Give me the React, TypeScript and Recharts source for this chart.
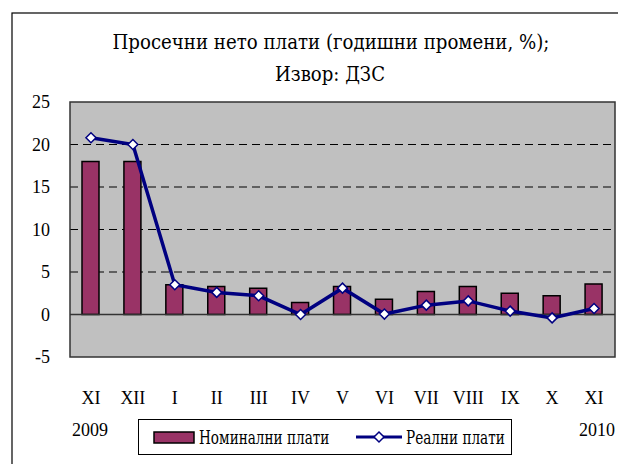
import React from 'react';
import {
  ComposedChart,
  Bar,
  Line,
  XAxis,
  YAxis,
  CartesianGrid,
  ReferenceLine,
  ReferenceArea,
  Legend,
} from 'recharts';

const months = ['XI', 'XII', 'I', 'II', 'III', 'IV', 'V', 'VI', 'VII', 'VIII', 'IX', 'X', 'XI'];
const nominal = [18.0, 18.0, 3.5, 3.3, 3.1, 1.4, 3.3, 1.8, 2.7, 3.3, 2.5, 2.2, 3.6];
const real = [20.8, 20.0, 3.5, 2.6, 2.2, 0.0, 3.1, 0.05, 1.1, 1.6, 0.4, -0.4, 0.7];
const yTicks = [-5, 0, 5, 10, 15, 20, 25];
const titleLines = ['Просечни нето плати (годишни промени, %);', 'Извор: ДЗС'];
const yearLabels = ['2009', '2010'];
const seriesNames = { nominal: 'Номинални плати', real: 'Реални плати' };

const data = months.map((m, i) => ({ key: i, month: m, nominal: nominal[i], real: real[i] }));

const FONT = 'Liberation Serif, DejaVu Serif, serif';
const CYR = 'DejaVu Serif Condensed, DejaVu Serif, serif';
const BAR = '#993366';
const NAVY = '#000080';

const Diamond = (props: any) => {
  const { cx, cy } = props;
  if (cx == null || cy == null) return null;
  const r = 5;
  return (
    <polygon
      points={`${cx},${cy - r} ${cx + r},${cy} ${cx},${cy + r} ${cx - r},${cy}`}
      fill="#fff"
      stroke={NAVY}
      strokeWidth={1.5}
    />
  );
};

// legend box: swatch + label, then line sample + label
const LegendBox = (props: any) => {
  const items = props.payload || [];
  return (
    <div
      style={{
        position: 'relative',
        width: 374,
        height: 36,
        boxSizing: 'border-box',
        border: '1.5px solid #000',
        fontFamily: CYR,
        fontSize: 18,
        whiteSpace: 'nowrap',
      }}
    >
      {items.map((it: any, i: number) => (
        <div
          key={i}
          style={{
            position: 'absolute',
            left: i === 0 ? 14 : 217,
            top: 7,
            height: 20,
            display: 'flex',
            alignItems: 'center',
          }}
        >
          {it.type === 'line' ? (
            <svg width={46} height={14} style={{ display: 'block' }}>
              <line x1={0} y1={7} x2={46} y2={7} stroke={NAVY} strokeWidth={3} />
              <polygon points="23,2 28,7 23,12 18,7" fill="#fff" stroke={NAVY} strokeWidth={1.5} />
            </svg>
          ) : (
            <svg width={42} height={13} style={{ display: 'block' }}>
              <rect x={1} y={1} width={40} height={11} fill={BAR} stroke="#000" strokeWidth={1.5} />
            </svg>
          )}
          <span
            style={{
              marginLeft: 4,
              display: 'inline-block',
              transform: 'scaleX(0.84)',
              transformOrigin: 'left center',
            }}
          >
            {it.value}
          </span>
        </div>
      ))}
    </div>
  );
};

export default function App() {
  return (
    <div style={{ position: 'absolute', left: 0, top: 0, width: 618, height: 464, background: '#fff' }}>
      <ComposedChart
        width={618}
        height={464}
        data={data}
        margin={{ top: 102, right: 3, bottom: 0, left: 0 }}
      >
        <CartesianGrid
          vertical={false}
          fill="#c0c0c0"
          stroke="#000"
          strokeDasharray="8 5"
          horizontalValues={[5, 10, 15, 20]}
        />
        <XAxis
          dataKey="key"
          tickFormatter={(v: number) => months[v]}
          axisLine={false}
          tickLine={false}
          tickMargin={28}
          height={107}
          interval={0}
          tick={{ fill: '#000', fontSize: 18, fontFamily: FONT }}
        />
        <YAxis
          domain={[-5, 25]}
          ticks={yTicks}
          axisLine={false}
          tickLine={false}
          width={70}
          tickMargin={14}
          tick={{ fill: '#000', fontSize: 18, fontFamily: FONT }}
        />
        <ReferenceLine y={0} stroke="#333" strokeWidth={1.5} />
        <Bar
          dataKey="nominal"
          name={seriesNames.nominal}
          fill={BAR}
          stroke="#000"
          strokeWidth={1.5}
          barSize={17}
          isAnimationActive={false}
        />
        <Line
          dataKey="real"
          name={seriesNames.real}
          type="linear"
          stroke={NAVY}
          strokeWidth={3.5}
          dot={<Diamond />}
          activeDot={false}
          isAnimationActive={false}
        />
        <ReferenceArea y1={-5} y2={25} fill="none" stroke="#333" strokeWidth={1.5} />
        <Legend
          layout="horizontal"
          verticalAlign="middle"
          align="center"
          content={<LegendBox />}
          wrapperStyle={{ position: 'absolute', left: 138, top: 419, width: 374, height: 36 }}
        />
      </ComposedChart>
      <svg
        width={618}
        height={464}
        style={{ position: 'absolute', left: 0, top: 0, pointerEvents: 'none' }}
      >
        <rect x={12} y={13} width={700} height={500} fill="none" stroke="#000" strokeWidth={1.2} />
        <text x={331} y={49} textAnchor="middle" fontFamily={CYR} fontSize={21} textLength={437} lengthAdjust="spacingAndGlyphs">
          {titleLines[0]}
        </text>
        <text x={330} y={81} textAnchor="middle" fontFamily={CYR} fontSize={21} textLength={110} lengthAdjust="spacingAndGlyphs">
          {titleLines[1]}
        </text>
        <text x={90} y={436} textAnchor="middle" fontFamily={FONT} fontSize={18}>
          {yearLabels[0]}
        </text>
        <text x={597} y={436} textAnchor="middle" fontFamily={FONT} fontSize={18}>
          {yearLabels[1]}
        </text>
      </svg>
    </div>
  );
}
